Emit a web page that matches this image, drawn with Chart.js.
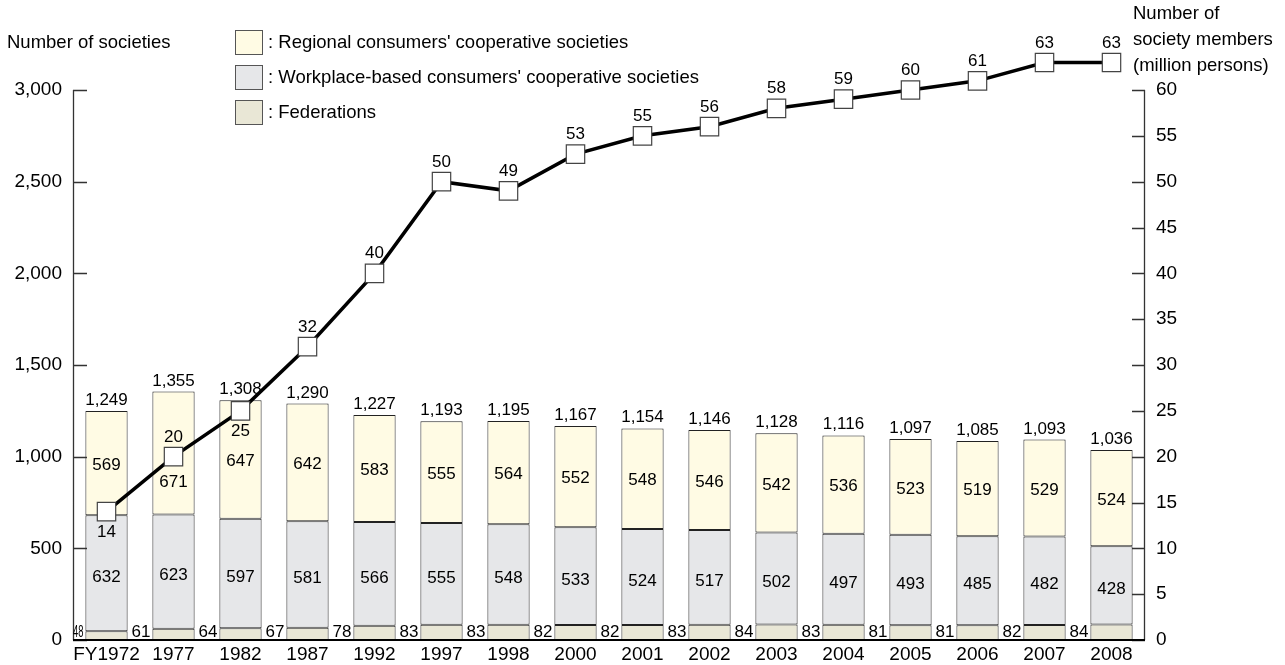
<!DOCTYPE html>
<html>
<head>
<meta charset="utf-8">
<script src="https://cdn.jsdelivr.net/npm/chart.js@4/dist/chart.umd.min.js"></script>
<style>
html,body{margin:0;padding:0;background:#fff;}
#wrap{width:1285px;height:665px;position:relative;}
</style>
</head>
<body>
<div id="wrap"><canvas id="c"></canvas></div>
<script>
// ---- data ----
const categories = ["FY1972","1977","1982","1987","1992","1997","1998","2000","2001","2002","2003","2004","2005","2006","2007","2008"];
const federations = [48,61,64,67,78,83,83,82,82,83,84,83,81,81,82,84];
const workplace = [632,623,597,581,566,555,548,533,524,517,502,497,493,485,482,428];
const regional = [569,671,647,642,583,555,564,552,548,546,542,536,523,519,529,524];
const totals = [1249,1355,1308,1290,1227,1193,1195,1167,1154,1146,1128,1116,1097,1085,1093,1036];
const members = [14,20,25,32,40,50,49,53,55,56,58,59,60,61,63,63];
const leftTicks = [0,500,1000,1500,2000,2500,3000];
const rightTicks = [0,5,10,15,20,25,30,35,40,45,50,55,60];
const legendLabels = [": Regional consumers' cooperative societies", ": Workplace-based consumers' cooperative societies", ": Federations"];
const leftTitle = "Number of societies";
const rightTitle = ["Number of", "society members", "(million persons)"];

const FONT = "'Liberation Sans', Arial, sans-serif";
const colRegional = '#fffbe4';
const colWork = '#e6e7e9';
const colFed = '#e9e7d6';

const fmt = v => v.toLocaleString('en-US');
const leftTop = leftTicks[leftTicks.length - 1];
const rightTop = rightTicks[rightTicks.length - 1];

const decor = {
  id: 'decor',
  afterDatasetsDraw(chart) {
    const ctx = chart.ctx;
    const ca = chart.chartArea;
    const y = chart.scales.y, y1 = chart.scales.y1;
    ctx.save();
    // axes
    ctx.strokeStyle = '#333';
    ctx.lineWidth = 1.3;
    ctx.beginPath();
    ctx.moveTo(ca.left + 0.5, Math.round(y.getPixelForValue(leftTop)));
    ctx.lineTo(ca.left + 0.5, ca.bottom);
    leftTicks.forEach(t => { const py = Math.round(y.getPixelForValue(t)) + 0.5; ctx.moveTo(ca.left, py); ctx.lineTo(ca.left + 14, py); });
    ctx.moveTo(ca.right - 0.5, Math.round(y1.getPixelForValue(rightTop)));
    ctx.lineTo(ca.right - 0.5, ca.bottom);
    rightTicks.forEach(t => { const py = Math.round(y1.getPixelForValue(t)) + 0.5; ctx.moveTo(ca.right, py); ctx.lineTo(ca.right - 13, py); });
    ctx.stroke();
    ctx.strokeStyle = '#000';
    ctx.lineWidth = 2.2;
    ctx.beginPath();
    ctx.moveTo(ca.left, ca.bottom);
    ctx.lineTo(ca.right, ca.bottom);
    ctx.stroke();

    // bar labels
    const mFed = chart.getDatasetMeta(0), mWork = chart.getDatasetMeta(1), mReg = chart.getDatasetMeta(2), mLine = chart.getDatasetMeta(3);
    ctx.fillStyle = '#000';
    ctx.font = '17px ' + FONT;
    mFed.data.forEach((el, i) => {
      const left = el.x - el.width / 2;
      const prevRight = i === 0 ? ca.left : mFed.data[i - 1].x + mFed.data[i - 1].width / 2;
      ctx.textAlign = 'right';
      ctx.textBaseline = 'alphabetic';
      ctx.fillText(String(federations[i]), left - 2, ca.bottom - 3, left - prevRight - 2);
    });
    mWork.data.forEach((el, i) => {
      ctx.textAlign = 'center';
      ctx.textBaseline = 'middle';
      ctx.fillText(String(workplace[i]), el.x, (el.y + el.base) / 2 + 4);
    });
    mReg.data.forEach((el, i) => {
      ctx.textAlign = 'center';
      ctx.textBaseline = 'middle';
      let ly = (el.y + el.base) / 2 + 2;
      const p = mLine.data[i];
      if (Math.abs(ly - p.y) < 22) ly = p.y + 26;
      ctx.fillText(String(regional[i]), el.x, ly);
      ctx.textBaseline = 'alphabetic';
      ctx.fillText(fmt(totals[i]), el.x, el.y - 6);
    });
    ctx.restore();
  },
  afterDraw(chart) {
    const ctx = chart.ctx;
    const mLine = chart.getDatasetMeta(3);
    ctx.save();
    ctx.fillStyle = '#000';
    ctx.font = '17px ' + FONT;
    ctx.textAlign = 'center';
    mLine.data.forEach((p, i) => {
      const below = (i === 0 || i === 2);
      if (below) { ctx.textBaseline = 'top'; ctx.fillText(String(members[i]), p.x, p.y + 12); }
      else { ctx.textBaseline = 'alphabetic'; ctx.fillText(String(members[i]), p.x, p.y - 15); }
    });
    // legend
    const fills = [colRegional, colWork, colFed];
    ctx.font = '18.5px ' + FONT;
    ctx.textAlign = 'left';
    ctx.textBaseline = 'middle';
    fills.forEach((f, k) => {
      const by = 30 + k * 35;
      ctx.fillStyle = f;
      ctx.fillRect(235, by, 28, 25);
      ctx.strokeStyle = '#555';
      ctx.lineWidth = 1;
      ctx.strokeRect(235.5, by + 0.5, 27, 24);
      ctx.fillStyle = '#000';
      ctx.fillText(legendLabels[k], 268, by + 13);
    });
    // axis titles
    ctx.textBaseline = 'alphabetic';
    ctx.fillText(leftTitle, 7, 48);
    rightTitle.forEach((t, k) => ctx.fillText(t, 1133, 19 + k * 26));
    ctx.restore();
  }
};

new Chart(document.getElementById('c'), {
  type: 'bar',
  data: {
    labels: categories,
    datasets: [
      { label: 'Federations', data: federations, backgroundColor: colFed, borderColor: '#222', borderWidth: 1, borderSkipped: false, stack: 's', order: 1 },
      { label: 'Workplace', data: workplace, backgroundColor: colWork, borderColor: '#222', borderWidth: 1, borderSkipped: false, stack: 's', order: 1 },
      { label: 'Regional', data: regional, backgroundColor: colRegional, borderColor: '#222', borderWidth: 1, borderSkipped: false, stack: 's', order: 1 },
      { type: 'line', label: 'Members', data: members, yAxisID: 'y1', borderColor: '#000', borderWidth: 3.5, tension: 0,
        pointStyle: 'rect', pointRadius: 13, pointHoverRadius: 13, pointBackgroundColor: '#fff', pointBorderColor: '#444', pointBorderWidth: 1.2,
        clip: false, order: 0 }
    ]
  },
  options: {
    responsive: true,
    maintainAspectRatio: false,
    animation: false,
    layout: { padding: { top: 62.5, left: 0, right: 0, bottom: 0 } },
    plugins: { legend: { display: false }, tooltip: { enabled: false } },
    datasets: { bar: { barPercentage: 0.63, categoryPercentage: 1 } },
    scales: {
      x: {
        stacked: true,
        grid: { display: false, drawTicks: false },
        border: { display: false },
        ticks: { color: '#000', font: { family: FONT, size: 19 }, padding: 3, maxRotation: 0, autoSkip: false },
        afterFit(s) { s.height = 25; }
      },
      y: {
        stacked: true, min: 0, max: leftTop * 1.05,
        grid: { display: false, drawTicks: false },
        border: { display: false },
        ticks: { color: '#000', font: { family: FONT, size: 19 }, padding: 11, callback: v => fmt(v) },
        afterBuildTicks(s) { s.ticks = leftTicks.map(v => ({ value: v })); },
        afterFit(s) { s.width = 73; }
      },
      y1: {
        position: 'right', min: 0, max: rightTop * 1.05,
        grid: { display: false, drawTicks: false },
        border: { display: false },
        ticks: { color: '#000', font: { family: FONT, size: 19 }, padding: 11 },
        afterBuildTicks(s) { s.ticks = rightTicks.map(v => ({ value: v })); },
        afterFit(s) { s.width = 140; }
      }
    }
  },
  plugins: [decor]
});
</script>
</body>
</html>
